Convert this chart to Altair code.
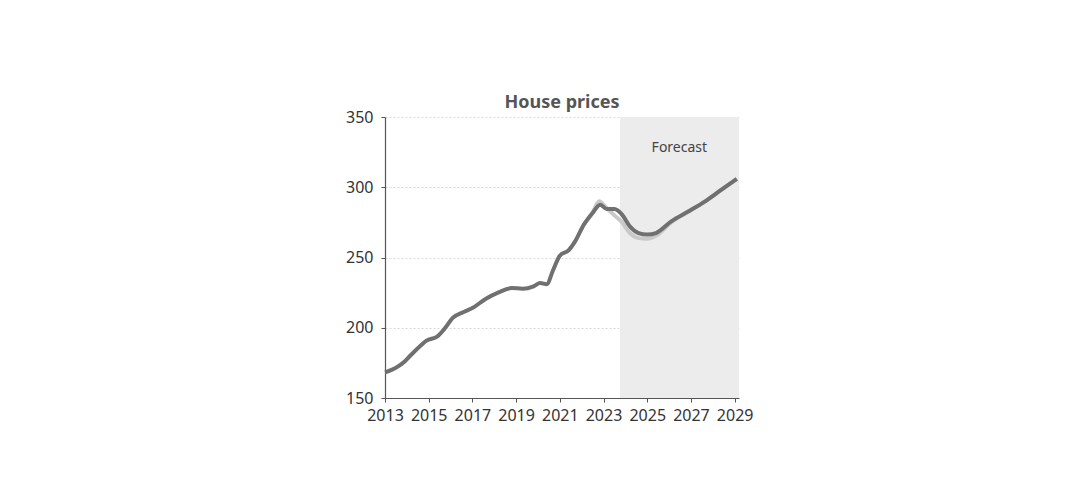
import altair as alt
import pandas as pd

# Main (dark) series: year, house price index
years = [2013.0, 2013.3, 2013.6, 2013.9, 2014.2, 2014.6, 2014.9, 2015.4, 2015.75, 2016.1,
         2016.6, 2017.0, 2017.6, 2018.2, 2018.8, 2019.3, 2019.8, 2020.1, 2020.4, 2020.7,
         2021.0, 2021.4, 2021.7, 2022.1, 2022.5, 2022.85, 2023.15, 2023.5, 2023.85, 2024.2,
         2024.6, 2025.0, 2025.4, 2026.1, 2026.9, 2027.65, 2028.4, 2029.1]
prices = [168.3, 170.0, 172.5, 176.0, 180.8, 186.8, 190.8, 193.9, 199.8, 207.0,
          211.2, 214.0, 220.5, 225.2, 228.3, 227.8, 229.5, 231.8, 231.0, 241.3,
          251.3, 255.1, 261.5, 273.4, 281.7, 287.6, 284.5, 284.5, 280.5, 272.2,
          267.4, 266.3, 267.4, 275.7, 282.9, 290.0, 298.3, 305.9]

# Alternative (light) series where it diverges
alt_years = [2022.1, 2022.5, 2022.8, 2023.1, 2023.5, 2023.85, 2024.2, 2024.6, 2025.0,
             2025.4, 2026.1, 2026.9, 2027.65, 2028.4, 2029.1]
alt_prices = [273.4, 282.0, 290.0, 286.0, 280.0, 275.0, 267.5, 263.8, 263.3,
              265.5, 275.0, 282.9, 290.0, 298.3, 305.9]

forecast_start = 2023.75
forecast_end = 2029.2
x_ticks = [2013, 2015, 2017, 2019, 2021, 2023, 2025, 2027, 2029]
y_ticks = [150, 200, 250, 300, 350]

main_df = pd.DataFrame({"year": years, "price": prices})
alt_df = pd.DataFrame({"year": alt_years, "price": alt_prices})
shade_df = pd.DataFrame({"x1": [forecast_start], "x2": [forecast_end]})
label_df = pd.DataFrame({"year": [2026.47], "price": [328], "text": ["Forecast"]})

FONT = "Noto Sans"
xscale = alt.Scale(domain=[2013, 2029.2], nice=False, zero=False)
yscale = alt.Scale(domain=[150, 350], nice=False, zero=False)

x_axis = alt.Axis(values=x_ticks, format="d", title=None, grid=False,
                  domainColor="#555555", tickColor="#555555", tickSize=4,
                  labelFont=FONT, labelFontSize=16, labelColor="#333333",
                  labelPadding=5, labelFlush=False, labelOverlap=False)
y_axis = alt.Axis(values=y_ticks, title=None, grid=True, gridColor="#d8d8d8",
                  gridDash=[2, 2], domainColor="#555555", tickColor="#555555",
                  tickSize=4, labelFont=FONT, labelFontSize=16, labelColor="#333333",
                  labelPadding=8)

shade = alt.Chart(shade_df).mark_rect(color="#ececec").encode(
    x=alt.X("x1:Q", scale=xscale, axis=x_axis),
    x2="x2:Q",
    y=alt.value(0),
    y2=alt.value(281),
)

grid = alt.Chart(main_df).mark_line(opacity=0).encode(
    x=alt.X("year:Q", scale=xscale, axis=x_axis),
    y=alt.Y("price:Q", scale=yscale, axis=y_axis),
)

light = alt.Chart(alt_df).mark_line(color="#c9c9c9", strokeWidth=4, interpolate="monotone").encode(
    x=alt.X("year:Q", scale=xscale),
    y=alt.Y("price:Q", scale=yscale),
)

dark = alt.Chart(main_df).mark_line(color="#707070", strokeWidth=4, interpolate="monotone").encode(
    x=alt.X("year:Q", scale=xscale),
    y=alt.Y("price:Q", scale=yscale),
)

label = alt.Chart(label_df).mark_text(font=FONT, fontSize=14, color="#444444").encode(
    x=alt.X("year:Q", scale=xscale),
    y=alt.Y("price:Q", scale=yscale),
    text="text:N",
)

chart = alt.layer(grid, shade, light, dark, label).properties(
    width=354,
    height=281,
    title=alt.TitleParams("House prices", font=FONT, fontSize=18, fontWeight="bold",
                          color="#555555", offset=-3, anchor="middle"),
    autosize=alt.AutoSizeParams(type="none"),
    padding={"left": 385, "top": 117, "right": 350, "bottom": 85},
).configure_view(stroke=None).configure_axis(domainWidth=1.2)

chart.save("out.html", embed_options={"renderer": "svg", "actions": False})
